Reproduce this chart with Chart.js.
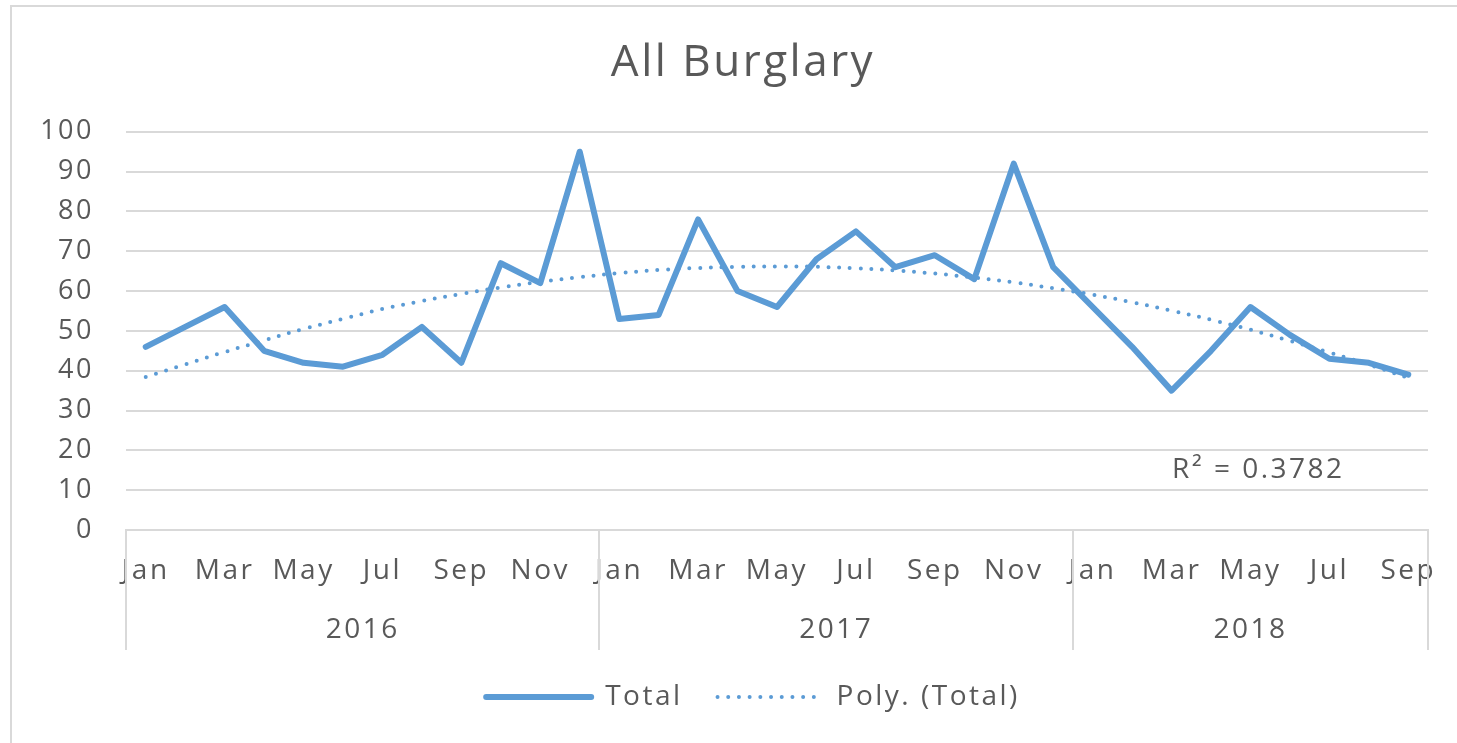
<!DOCTYPE html>
<html>
<head>
<meta charset="utf-8">
<title>All Burglary</title>
<script src="https://cdn.jsdelivr.net/npm/chart.js@4.4.1/dist/chart.umd.min.js"></script>
<style>
  html, body { margin: 0; padding: 0; background: #fff; }
  .frame {
    position: absolute; left: 10px; top: 5px; width: 1460px; height: 750px;
    border-top: 2px solid #d9d9d9; border-left: 2px solid #d9d9d9;
    pointer-events: none;
  }
  #wrap { position: relative; width: 1457px; height: 743px; overflow: hidden; }
</style>
</head>
<body>
<div id="wrap">
  <canvas id="burglaryChart" width="1457" height="743"></canvas>
  <div class="frame"></div>
</div>
<script>
// Chart data
const months = [
    'Jan', 'Feb', 'Mar', 'Apr', 'May', 'Jun', 'Jul', 'Aug', 'Sep', 'Oct', 'Nov', 'Dec',
    'Jan', 'Feb', 'Mar', 'Apr', 'May', 'Jun', 'Jul', 'Aug', 'Sep', 'Oct', 'Nov', 'Dec',
    'Jan', 'Feb', 'Mar', 'Apr', 'May', 'Jun', 'Jul', 'Aug', 'Sep'
];
const years = ['2016', '2017', '2018'];
const yearLengths = [12, 12, 9];

const totals = [
    46, 51, 56, 45, 42, 41, 44, 51, 42, 67, 62, 95,
    53, 54, 78, 60, 56, 68, 75, 66, 69, 63, 92, 66,
    56, 46, 35, 45, 56, 49, 43, 42, 39
];
const polyTrend = [
    38.4, 41.6, 44.7, 47.6, 50.5, 53.0, 55.5, 57.5, 59.3, 60.9, 62.3, 63.5,
    64.5, 65.3, 65.8, 66.1, 66.2, 66.1, 65.7, 65.2, 64.4, 63.4, 62.2, 60.7,
    59.1, 57.2, 55.1, 52.8, 50.3, 47.5, 44.6, 41.5, 38.2
];
const rSquaredText = 'R\u00B2 = 0.3782';

const blue = '#5b9bd5';
const textGrey = '#595959';
const gridGrey = '#d9d9d9';
const fontFamily = '"Open Sans", "Noto Sans", sans-serif';
const letterSpacing = '2.5px';

// The reference text is drawn wide, so space the letters out a little
const wideText = {
    id: 'wideText',
    beforeUpdate(chart) { chart.ctx.letterSpacing = letterSpacing; },
    beforeDraw(chart) { chart.ctx.letterSpacing = letterSpacing; },
    afterLayout(chart) {
        // title and legend sit a bit right of the canvas centre in the original
        chart.titleBlock.left += 24;
        chart.titleBlock.right += 24;
        chart.legend.left += 34;
        chart.legend.right += 34;
    }
};

// Year row under the month labels, with Excel-style separators
const yearGroups = {
    id: 'yearGroups',
    afterDraw(chart) {
        const ctx = chart.ctx;
        const x = chart.scales.x;
        const top = chart.chartArea.bottom;
        ctx.save();
        ctx.strokeStyle = gridGrey;
        ctx.lineWidth = 2;
        let start = 0;
        const edges = [-0.5];
        yearLengths.forEach(len => { start += len; edges.push(start - 0.5); });
        edges.forEach(e => {
            const px = Math.round(x.getPixelForValue(e));
            ctx.beginPath();
            ctx.moveTo(px, top);
            ctx.lineTo(px, top + 120);
            ctx.stroke();
        });
        ctx.fillStyle = textGrey;
        ctx.font = '28px ' + fontFamily;
        ctx.textAlign = 'center';
        ctx.textBaseline = 'middle';
        years.forEach((yr, i) => {
            const mid = (edges[i] + edges[i + 1]) / 2;
            ctx.fillText(yr, x.getPixelForValue(mid), top + 100);
        });
        ctx.restore();
    }
};

// R squared label of the trendline
const rSquaredLabel = {
    id: 'rSquaredLabel',
    afterDatasetsDraw(chart) {
        const ctx = chart.ctx;
        ctx.save();
        ctx.fillStyle = textGrey;
        ctx.font = '28px ' + fontFamily;
        ctx.textAlign = 'center';
        ctx.textBaseline = 'middle';
        ctx.fillText(rSquaredText, chart.scales.x.getPixelForValue(28.2), chart.scales.y.getPixelForValue(15));
        ctx.restore();
    }
};

window.addEventListener('DOMContentLoaded', () => {
    new Chart(document.getElementById('burglaryChart'), {
        type: 'line',
        data: {
            labels: months,
            datasets: [{
                label: 'Total',
                data: totals,
                borderColor: blue,
                borderWidth: 6,
                borderJoinStyle: 'round',
                borderCapStyle: 'round',
                pointRadius: 0,
                tension: 0,
                order: 1
            }, {
                label: 'Poly. (Total)',
                data: polyTrend,
                borderColor: blue,
                borderWidth: 4,
                borderDash: [0, 10.7],
                borderCapStyle: 'round',
                pointRadius: 0,
                tension: 0.4,
                order: 0
            }]
        },
        options: {
            responsive: false,
            animation: false,
            layout: { padding: { left: 10, right: 29, top: 0, bottom: 22 } },
            scales: {
                x: {
                    offset: true,
                    grid: { display: false, drawTicks: false },
                    border: { display: true, color: gridGrey, width: 2 },
                    ticks: {
                        autoSkip: false,
                        maxRotation: 0,
                        padding: 24,
                        color: textGrey,
                        font: { size: 28, family: fontFamily },
                        callback: function (value, index) {
                            return index % 2 === 0 ? this.getLabelForValue(value) : '';
                        }
                    },
                    afterFit(scale) {
                        scale.height = 118;
                        // let "Sep" hang over the edge like in the original
                        scale.paddingLeft = 0;
                        scale.paddingRight = 0;
                    }
                },
                y: {
                    min: 0,
                    max: 100,
                    grid: { color: gridGrey, lineWidth: 2, drawTicks: false },
                    border: { display: false },
                    ticks: {
                        stepSize: 10,
                        padding: 32,
                        color: textGrey,
                        font: { size: 27, family: fontFamily }
                    },
                    afterFit(scale) { scale.width = 116; }
                }
            },
            plugins: {
                title: {
                    display: true,
                    text: 'All Burglary',
                    color: textGrey,
                    font: { size: 44, family: fontFamily, weight: 'normal' },
                    padding: { top: 37, bottom: 42 }
                },
                legend: {
                    position: 'bottom',
                    labels: {
                        usePointStyle: true,
                        pointStyleWidth: 105,
                        boxHeight: 28,
                        padding: 35,
                        color: textGrey,
                        font: { size: 28, family: fontFamily },
                        generateLabels(chart) {
                            return chart.data.datasets.map((ds, i) => ({
                                text: ds.label,
                                datasetIndex: i,
                                pointStyle: 'line',
                                strokeStyle: ds.borderColor,
                                fillStyle: ds.borderColor,
                                lineWidth: ds.borderWidth,
                                lineDash: ds.borderDash || [],
                                lineCap: 'round',
                                fontColor: textGrey,
                                hidden: false
                            }));
                        }
                    }
                },
                tooltip: { enabled: false }
            }
        },
        plugins: [wideText, yearGroups, rSquaredLabel]
    });
});
</script>
</body>
</html>
